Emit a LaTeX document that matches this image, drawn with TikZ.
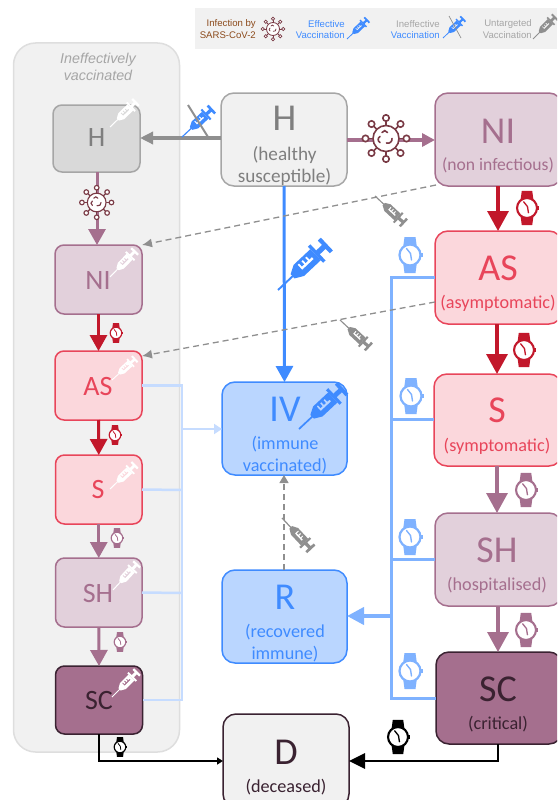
\documentclass[tikz,border=0pt]{standalone}
\usepackage{fontspec}
\setmainfont{Carlito}
\newfontfamily\legendfont{Liberation Sans}
\usetikzlibrary{arrows.meta,calc}
\definecolor{mauve}{HTML}{A56F8E}
\definecolor{mauvefill}{HTML}{E2D0DB}
\definecolor{crim}{HTML}{C2182B}
\definecolor{pinkline}{HTML}{E8455A}
\definecolor{pinkfill}{HTML}{FBD7DC}
\definecolor{blu}{HTML}{3F8BFF}
\definecolor{blufill}{HTML}{BAD6FF}
\definecolor{ltblue}{HTML}{7FB2FF}
\definecolor{paleblue}{HTML}{C6DCFF}
\definecolor{dark}{HTML}{3A2231}
\definecolor{gry}{HTML}{A6A6A6}
\definecolor{gtext}{HTML}{7F7F7F}
\definecolor{dgry}{HTML}{8F8F8F}
\definecolor{panel}{HTML}{F1F1F1}
\definecolor{brownv}{HTML}{7A3B46}
\definecolor{brownt}{HTML}{8B4A1B}
\newcommand{\Syr}[5]{% x1 y1 x2 y2 colour: needle tip at 1, plunger at 2
  \pgfmathsetmacro{\syrang}{atan2(#2-#4,#3-#1)}%
  \pgfmathsetmacro{\syrsc}{veclen(#3-#1,#4-#2)/36}%
  \begin{scope}[shift={(#1,#2)},rotate=\syrang,scale=\syrsc,x=1pt,y=-1pt]
    \draw[#5,line width=\syrsc pt] (0,0) -- (13,0);
    \fill[#5,even odd rule]
      (10.5,-1.5) -- (15,-4) -- (27,-4) -- (27,4) -- (15,4) -- (10.5,1.5) -- cycle
      (16.5,-2.6) -- (17.6,-2.6) -- (17.6,-0.4) -- (19.2,-0.4) -- (19.2,-2.6) -- (20.3,-2.6)
       -- (20.3,-0.4) -- (21.9,-0.4) -- (21.9,-2.6) -- (23,-2.6) -- (23,-0.4) -- (24.8,-0.4)
       -- (24.8,1) -- (16.5,1) -- cycle;
    \fill[#5] (27,-5.8) rectangle (28.8,5.8) (28,-1.4) rectangle (33.5,1.4) (33,-4.6) rectangle (35.2,4.6);
  \end{scope}}
\newcommand{\Wat}[4]{% x y scale colour
  \begin{scope}[shift={(#1,#2)},scale=#3,x=1pt,y=1pt]
   \fill[#4] (-7,-7) -- (-5.5,-18) -- (5.5,-18) -- (7,-7) -- cycle;
   \fill[#4] (-7,7) -- (-5.5,18) -- (5.5,18) -- (7,7) -- cycle;
   \fill[#4] (11,-2) rectangle (13,2);
   \filldraw[fill=white,draw=#4,line width=2.2*#3 pt] (0,0) circle (10.5);
   \draw[#4,line width=1.4*#3 pt,line cap=round,line join=round] (-3.5,6.5) -- (0.5,1.5) -- (1.5,-5);
  \end{scope}}
\newcommand{\Vir}[3]{% x y scale
  \begin{scope}[shift={(#1,#2)},scale=#3,x=1pt,y=-1pt,draw=brownv,line width=1.6*#3 pt,line cap=round]
   \foreach \a in {0,45,...,315}{
     \draw (\a:13) -- (\a:17.5);
     \draw[fill=white] (\a:20.5) circle (3.2);}
   \draw[fill=white] (0,0) circle (13);
   \draw (-4,-6) .. controls (-3,-8.5) and (0.5,-8.5) .. (1.5,-6);
   \draw (-6,-2) .. controls (-8.5,-0.5) and (-8.5,2.5) .. (-6,4);
   \draw (6,0) .. controls (6.5,3) and (3.5,5.5) .. (0.5,4.5);
  \end{scope}}
\tikzset{
  bx/.style={draw,rounded corners=#1,line width=1.5pt,inner sep=0pt,outer sep=0pt,anchor=north west},
  bx/.default=13pt,
  big/.style={font=\fontsize{38}{38}\selectfont,inner sep=0pt},
  mini/.style={font=\fontsize{28}{28}\selectfont,inner sep=0pt},
  subl/.style={font=\fontsize{18.2}{22}\selectfont,inner sep=0pt,align=center},
  leg/.style={font=\legendfont\fontsize{9.6}{11}\selectfont,inner sep=0pt,anchor=east},
  gdash/.style={draw=dgry,dash pattern=on 6pt off 4pt,line width=1.3pt,-{Latex[length=10pt,width=9pt]}},
  tipS/.style={-{Triangle[length=16pt,width=17pt]}},
  tipL/.style={-{Triangle[length=20pt,width=21pt]}},
}
\newcommand{\Bx}[8]{% name x1 y1 x2 y2 fill draw radius
  \node[bx=#8,draw=#7,fill=#6,minimum width=#4pt-#2pt,minimum height=#5pt-#3pt] (#1) at (#2,#3) {};}
\begin{document}
\begin{tikzpicture}[x=1pt,y=-1pt]
\useasboundingbox (0,0) rectangle (557,800);
\clip (0,0) rectangle (557,800);
% legend
\fill[panel] (195,8) rectangle (557,49);
\node[leg,text=brownt] (l1a) at (256,24) {Infection by};
\node[leg,text=brownt] (l1b) at (256,35.5) {SARS-CoV-2};
\Vir{273}{29}{0.5}
\node[leg,text=blu] (l2a) at (345,24) {Effective};
\node[leg,text=blu] (l2b) at (345,35.5) {Vaccination};
\Syr{347}{39}{368}{19}{blu}
\node[leg,text=gry] (l3a) at (440,24) {Ineffective};
\node[leg,text=blu] (l3b) at (440,35.5) {Vaccination};
\Syr{443}{38}{464}{18}{blu}
\draw[dgry,line width=.7pt] (449,16) -- (461,38);
\node[leg,text=gry] (l4a) at (532,24.5) {Untargeted};
\node[leg,text=gry] (l4b) at (532,35.5) {Vaccination};
\Syr{533}{39}{556}{16}{dgry}
% panel
\node[bx=22pt,draw=black!13,fill=panel,minimum width=166pt,minimum height=709pt] (panelbox) at (13.5,43) {};
\node[font=\legendfont\fontsize{14.3}{17.5}\selectfont\itshape,text=gry,align=center,inner sep=0pt] (ptitle) at (98,67) {Ineffectively\\vaccinated};
% right column boxes
\Bx{H}{221}{93}{347}{186}{panel}{gry}{13pt}
\Bx{NI}{435}{93}{562}{186}{mauvefill}{mauve}{13pt}
\Bx{AS}{435}{231}{562}{324}{pinkfill}{pinkline}{13pt}
\Bx{S}{434}{374}{562}{466}{pinkfill}{pinkline}{13pt}
\Bx{SH}{435}{513}{562}{606}{mauvefill}{mauve}{13pt}
\Bx{SC}{436}{652}{562}{744}{mauve}{dark}{13pt}
\Bx{IV}{222}{382}{347}{475}{blufill}{blu}{13pt}
\Bx{R}{222}{570}{347}{663}{blufill}{blu}{13pt}
\Bx{D}{223}{714}{349}{807}{panel}{dark}{13pt}
% small boxes
\Bx{h}{53}{105}{140}{172}{black!15}{gry}{9pt}
\Bx{ni}{55}{245}{142}{314}{mauvefill}{mauve}{9pt}
\Bx{as}{55}{351}{142}{420}{pinkfill}{pinkline}{9pt}
\Bx{s}{55.5}{455}{142}{524}{pinkfill}{pinkline}{9pt}
\Bx{sh}{55.5}{558}{142}{627}{mauvefill}{mauve}{9pt}
\Bx{sc}{55.5}{666}{142.5}{734}{mauve}{dark}{9pt}
% labels
\node[big,text=gtext] (tH) at (284.5,118) {H};
\node[subl,font=\fontsize{19.2}{22}\selectfont,text=gtext] (sH) at (284.5,166) {(healthy\\susceptible)};
\node[big,text=mauve] (tNI) at (498,131) {NI};
\node[subl,font=\fontsize{17.6}{22}\selectfont,text=mauve] (sNI) at (498,165) {(non infectious)};
\node[big,text=pinkline] (tAS) at (498,268) {AS};
\node[subl,text=pinkline] (sAS) at (498,303) {(asymptomatic)};
\node[big,text=pinkline] (tS) at (497,410) {S};
\node[subl,text=pinkline] (sS) at (497,446) {(symptomatic)};
\node[big,text=mauve] (tSH) at (497,550) {SH};
\node[subl,text=mauve] (sSH) at (497,585) {(hospitalised)};
\node[big,text=dark] (tSC) at (498,689) {SC};
\node[subl,text=dark] (sSC) at (498,724) {(critical)};
\node[big,text=blu] (tIV) at (285,409) {IV};
\node[subl,text=blu] (sIV) at (285,455) {(immune\\vaccinated)};
\node[big,text=blu] (tR) at (285,597) {R};
\node[subl,text=blu] (sR) at (285,643) {(recovered\\immune)};
\node[big,text=dark] (tD) at (286,752) {D};
\node[subl,text=dark] (sD) at (286,787) {(deceased)};
\node[mini,text=gtext] (th) at (96.5,138) {H};
\node[mini,text=mauve] (tni) at (98,281) {NI};
\node[mini,text=pinkline] (tas) at (98,387) {AS};
\node[mini,text=pinkline] (ts) at (98,490) {S};
\node[mini,text=mauve] (tsh) at (98,594) {SH};
\node[mini,text=dark] (tsc) at (99,701) {SC};
% white syringes
\Syr{110}{127}{137}{101}{white}
\Syr{110}{277}{136}{250}{white}
\Syr{112}{380}{136}{358}{white}
\Syr{110}{489}{136}{464}{white}
\Syr{113}{590}{138}{563}{white}
\Syr{112}{697}{138}{671}{white}
% connectors
\draw[dgry,line width=3.5pt,-{Triangle[length=13pt,width=12pt]}] (H.west|-0,138) -- (h.east|-0,138);
\draw[mauve,line width=3.5pt,-{Triangle[length=13pt,width=13pt]}] (H.east|-0,140) -- (NI.west|-0,140);
\draw[blu,line width=3pt,tipS] (H.south) -- (IV.north);
\draw[mauve,line width=3pt,tipS] (97,172) -- (97,245);
\draw[crim,line width=3pt,tipS] (ni.south) -- (as.north);
\draw[crim,line width=3pt,tipS] (as.south) -- (s.north);
\draw[mauve,line width=3pt,tipS] (s.south) -- (sh.north);
\draw[mauve,line width=3pt,tipS] (sh.south) -- (sc.north);
\draw[black,line width=2.2pt,-{Triangle[length=6pt,width=7pt]}] (99,734) |- (223,761);
\draw[crim,line width=3.3pt,tipL] (498,186) -- (498,231);
\draw[crim,line width=3.3pt,tipL] (497,324) -- (497,374);
\draw[mauve,line width=3.3pt,tipL] (497,466) -- (497,513);
\draw[mauve,line width=3.3pt,tipL] (498,606) -- (498,652);
\draw[black,line width=2.8pt,-{Triangle[length=16pt,width=15pt]}] (498,744) |- (349,761);
% pale blue collector
\draw[paleblue,line width=2.5pt] (as.east) -| (182,700) -- (sc.east|-0,700);
\draw[paleblue,line width=2.5pt] (s.east) -- (182,490);
\draw[paleblue,line width=2.5pt] (sh.east) -- (182,593);
\draw[paleblue,line width=2.5pt,-{Triangle[length=8pt,width=10pt]}] (182,429) -- (IV.west|-0,429);
% blue collector
\draw[ltblue,line width=3pt] (AS.west|-0,277) -| (391,698) -- (SC.west|-0,698);
\draw[ltblue,line width=3pt] (S.west|-0,419) -- (391,419);
\draw[ltblue,line width=3pt] (SH.west|-0,559) -- (391,559);
\draw[ltblue,line width=4pt,-{Triangle[length=17pt,width=17pt]}] (391,616) -- (R.east|-0,616);
% dashed
\draw[gdash] (436,185) -- (ni.north east);
\draw[gdash] (435,302) -- (142,356);
\draw[draw=dgry,dash pattern=on 6pt off 4pt,line width=1.2pt,-{Triangle[length=8pt,width=9pt]}] (284,570) -- (284,475);
% icons on connectors
\Vir{386}{138.5}{1}
\Vir{96.7}{202.5}{0.72}
\Syr{182}{137}{213}{108}{blu}
\draw[dgry,line width=2pt] (188,105) -- (208,137);
\Syr{278}{290}{328}{243}{blu}
\Syr{299}{429}{344}{387}{blu}
\Syr{375}{196}{405}{224}{dgry}
\Syr{340}{320}{370}{348}{dgry}
\Syr{282}{518}{312}{550}{dgry}
\Wat{527}{208}{0.95}{crim}
\Wat{524}{350}{0.95}{crim}
\Wat{526}{490}{0.95}{mauve}
\Wat{526}{630}{0.95}{mauve}
\Wat{398}{737}{0.95}{black}
\Wat{410}{255}{1}{ltblue}
\Wat{411}{396}{1}{ltblue}
\Wat{410}{537}{1}{ltblue}
\Wat{410}{671}{1}{ltblue}
\Wat{116}{333}{0.55}{crim}
\Wat{115}{435}{0.55}{crim}
\Wat{117}{538}{0.55}{mauve}
\Wat{120}{642}{0.55}{mauve}
\Wat{120}{747}{0.55}{black}
\end{tikzpicture}
\end{document}
